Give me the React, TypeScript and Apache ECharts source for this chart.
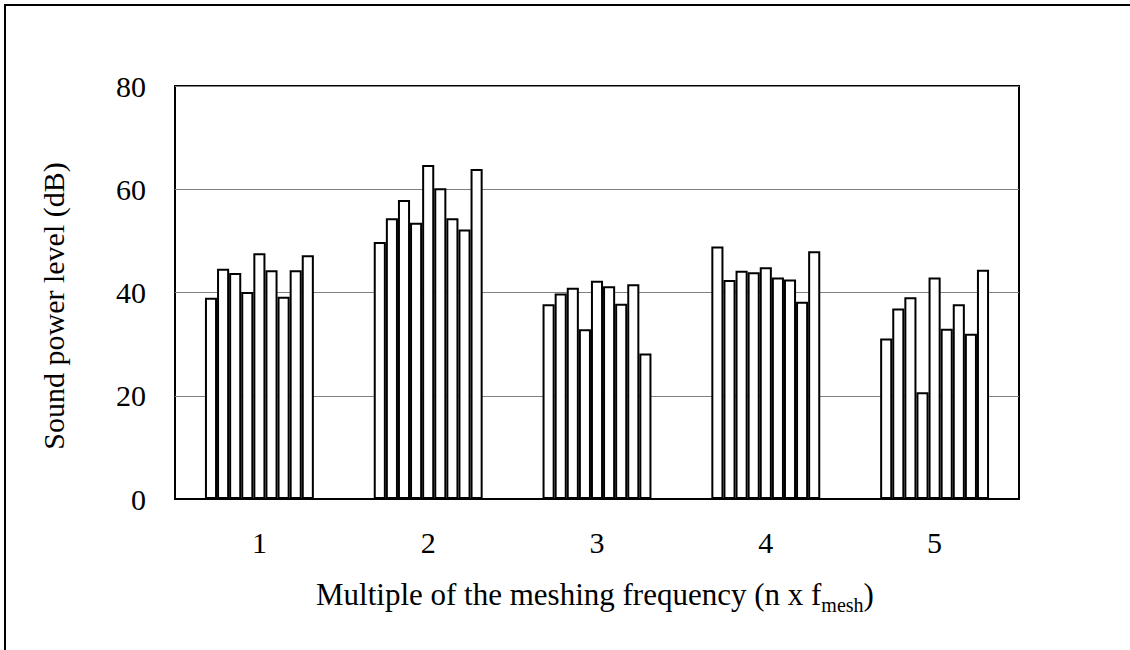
import React, { useEffect, useRef } from "react";
import * as echarts from "echarts";

const categories = ["1", "2", "3", "4", "5"];
const s1 = [39.0, 49.8, 37.7, 48.9, 31.1];
const s2 = [44.6, 54.4, 39.8, 42.4, 36.9];
const s3 = [43.8, 57.9, 40.9, 44.2, 39.1];
const s4 = [40.1, 53.5, 32.9, 43.9, 20.7];
const s5 = [47.6, 64.7, 42.3, 44.9, 42.9];
const s6 = [44.3, 60.2, 41.2, 42.9, 33.0];
const s7 = [39.2, 54.4, 37.8, 42.5, 37.7];
const s8 = [44.3, 52.2, 41.6, 38.2, 32.0];
const s9 = [47.2, 63.9, 28.2, 48.0, 44.4];
const seriesList = [s1, s2, s3, s4, s5, s6, s7, s8, s9];
const yTicks = { min: 0, max: 80, interval: 20 };

const FONT = "'Liberation Serif', 'Times New Roman', serif";

export default function App() {
  const ref = useRef<HTMLDivElement>(null);
  useEffect(() => {
    if (!ref.current) return;
    const chart = echarts.init(ref.current, null, { renderer: "svg" });
    chart.setOption({
      animation: false,
      backgroundColor: "#fff",
      textStyle: { fontFamily: FONT, color: "#000" },
      grid: {
        left: 175,
        top: 86,
        width: 844,
        height: 413,
        show: true,
        borderColor: "#000",
        borderWidth: 2,
        backgroundColor: "transparent",
      },
      xAxis: {
        type: "category",
        data: categories,
        axisTick: { show: false },
        axisLine: { show: true, lineStyle: { color: "#000", width: 2 } },
        axisLabel: { fontFamily: FONT, fontSize: 30, color: "#000", margin: 28 },
      },
      yAxis: {
        type: "value",
        min: yTicks.min,
        max: yTicks.max,
        interval: yTicks.interval,
        axisLine: { show: false },
        axisTick: { show: false },
        axisLabel: { fontFamily: FONT, fontSize: 30, color: "#000", margin: 29 },
        splitLine: { show: true, lineStyle: { color: "#808080", width: 1 } },
      },
      series: seriesList.map((d, i) => ({
        type: "bar",
        name: "S" + (i + 1),
        data: d,
        barWidth: 12.1,
        barGap: "0%",
        itemStyle: { color: "#fff", borderColor: "#000", borderWidth: 2 },
        z: 3,
      })),
      graphic: [
        {
          type: "polyline",
          shape: { points: [[5, 700], [5, 5], [1200, 5]] },
          style: { stroke: "#000", lineWidth: 2, fill: "none" },
        },
        {
          type: "text",
          x: 53,
          y: 306,
          rotation: Math.PI / 2,
          style: {
            text: "Sound power level (dB)",
            font: "30px " + FONT,
            fill: "#000",
            align: "center",
            verticalAlign: "middle",
          },
        },
        {
          type: "text",
          x: 316,
          y: 594,
          style: {
            text: "{a|Multiple of the meshing frequency (n x f}{b|mesh}{a|)}",
            fill: "#000",
            align: "left",
            verticalAlign: "middle",
            rich: {
              a: { fontFamily: FONT, fontSize: 31, fill: "#000", verticalAlign: "bottom" },
              b: { fontFamily: FONT, fontSize: 20, fill: "#000", verticalAlign: "bottom", padding: [0, 0, -5, 0] },
            },
          },
        },
      ],
    });
    return () => chart.dispose();
  }, []);
  return (
    <div
      ref={ref}
      style={{ position: "absolute", left: 0, top: 0, width: 1130, height: 650 }}
    />
  );
}
